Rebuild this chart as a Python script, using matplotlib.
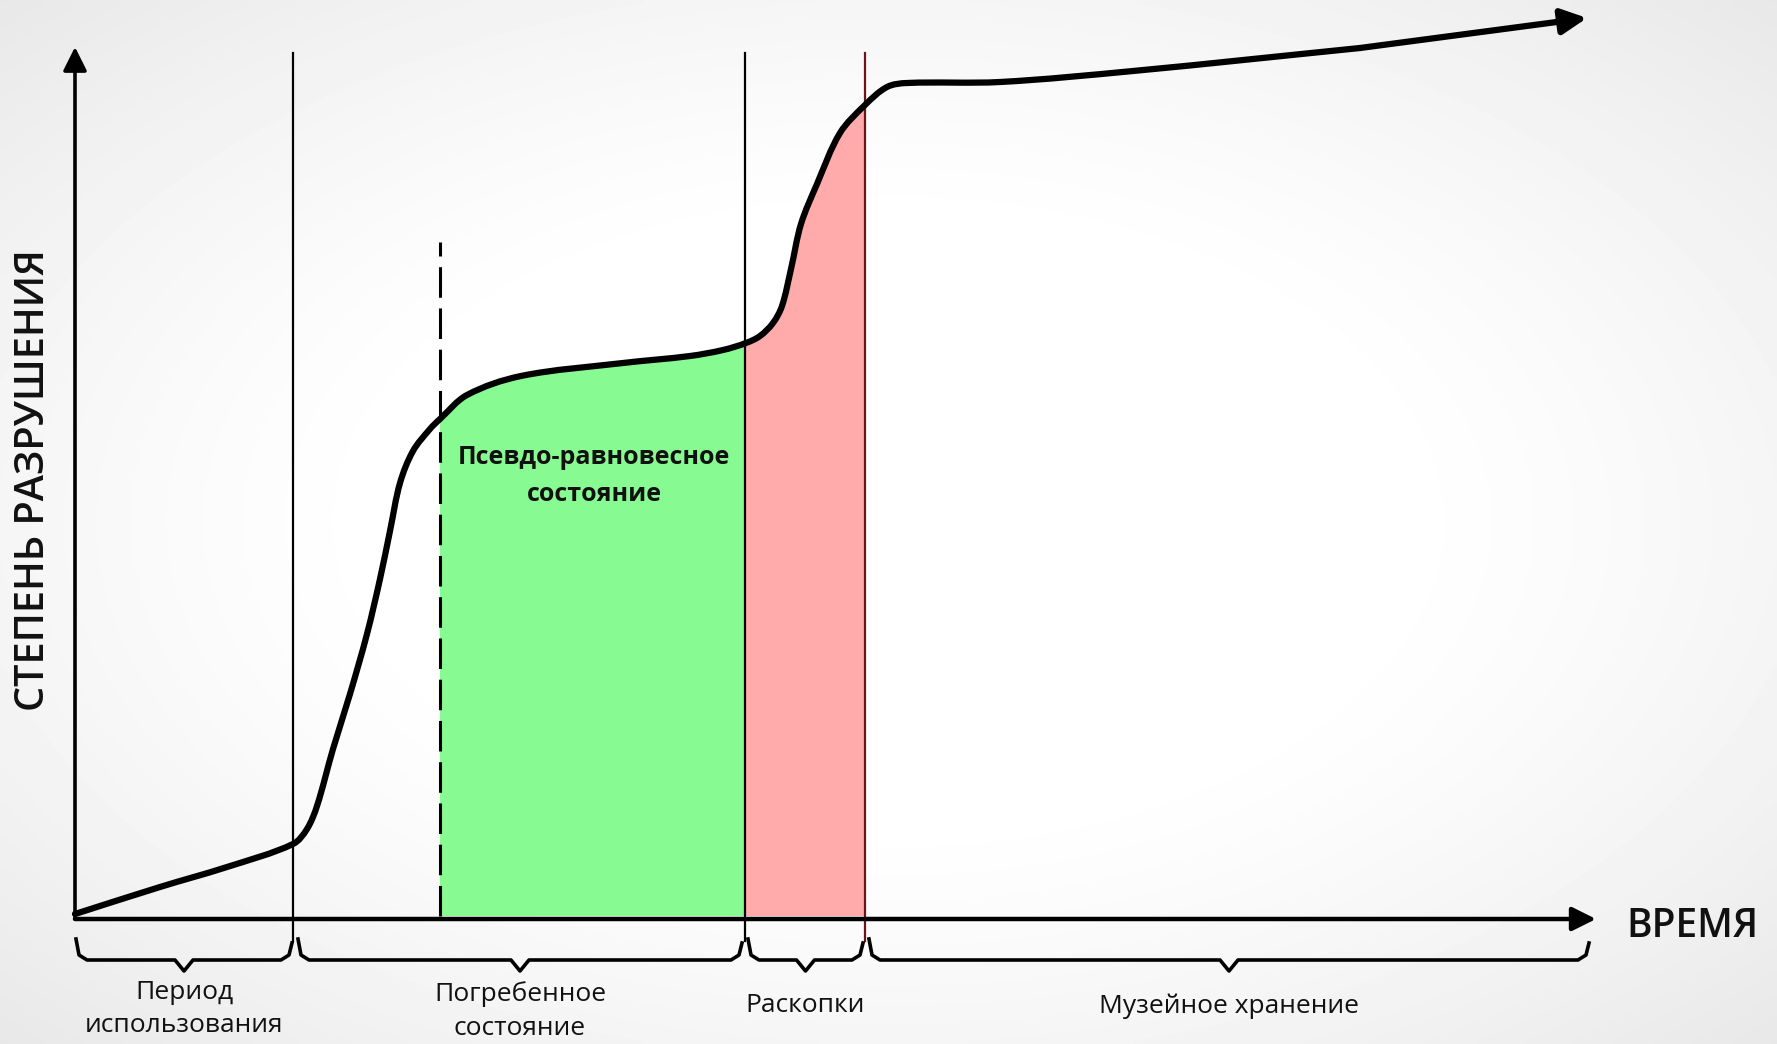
import numpy as np
import matplotlib
matplotlib.use("Agg")
import matplotlib.pyplot as plt
from matplotlib.path import Path
from matplotlib.patches import PathPatch, Rectangle

plt.rcParams['font.family'] = ['Open Sans', 'DejaVu Sans']

# curve of damage vs time (units: px of the original picture, origin at the axes corner)
time_pts = [0, 85, 152, 218, 232, 242, 258, 275, 292, 305, 315, 325, 338, 355, 365,
            392, 446, 548, 615, 648, 671, 685, 698, 707, 716, 726, 742, 765, 790,
            812, 832, 925, 1058, 1285, 1512]
damage = [5, 32, 52, 75, 90, 113, 170, 225, 285, 340, 388, 436, 468, 490, 500,
          524, 543, 556, 563, 569, 576, 583, 596, 613, 650, 695, 735, 786, 814,
          832, 836, 837, 848, 871, 901]

# phase boundaries on the time axis
t_use_end = 218
t_pseudo = 365
t_excav = 670
t_museum = 790
t_axis_end = 1521
y_axis_end = 872

phase_spans = [(0, 218), (222, 668), (672, 789), (793, 1515)]
phase_labels = ["Период\nиспользования", "Погребенное\nсостояние", "Раскопки", "Музейное хранение"]
phase_label_y = [-90, -92, -87, -87]

ylabel = "СТЕПЕНЬ РАЗРУШЕНИЯ"
xlabel = "ВРЕМЯ"
pseudo_label = "Псевдо-равновесное\nсостояние"

green = '#87fb91'
pink = '#ffabab'


def smooth_path(xs, ys):
    # bezier path through the points, tangents from neighbours
    p = np.column_stack([xs, ys]).astype(float)
    n = len(p)
    dirs = np.zeros_like(p)
    for i in range(n):
        a = p[max(i - 1, 0)]
        b = p[min(i + 1, n - 1)]
        v = b - a
        dirs[i] = v / np.hypot(*v)
    verts = [p[0]]
    codes = [Path.MOVETO]
    for i in range(n - 1):
        L = np.hypot(*(p[i + 1] - p[i]))
        verts += [p[i] + dirs[i] * L / 3, p[i + 1] - dirs[i + 1] * L / 3, p[i + 1]]
        codes += [Path.CURVE4] * 3
    return verts, codes


fig = plt.figure(figsize=(17.77, 10.44), dpi=100)
ax = fig.add_axes([0, 0, 1, 1])
xmin, xmax, ymin, ymax = -75, 1702, -125, 919
ax.set_xlim(xmin, xmax)
ax.set_ylim(ymin, ymax)
ax.axis('off')

# light vignette background
gx, gy = np.meshgrid(np.linspace(-1, 1, 300), np.linspace(-1, 1, 180))
r = np.sqrt(gx**2 + gy**2)
bg = 1 - 0.09 * np.clip((r - 0.55) / 0.86, 0, 1) ** 1.3
ax.imshow(bg, cmap='gray', vmin=0, vmax=1, extent=[xmin, xmax, ymin, ymax],
          aspect='auto', zorder=0, interpolation='bicubic')

verts, codes = smooth_path(time_pts[:-1], damage[:-1])

# region under the curve, used to clip the coloured zones
under_verts = verts + [(time_pts[-2], 3), (0, 3), (0, 3)]
under_codes = codes + [Path.LINETO, Path.LINETO, Path.CLOSEPOLY]
under = PathPatch(Path(under_verts, under_codes), transform=ax.transData)

for x0, x1, c in [(t_pseudo, t_excav, green), (t_excav, t_museum, pink)]:
    rect = Rectangle((x0, 3), x1 - x0, 900, facecolor=c, lw=0, zorder=1)
    ax.add_patch(rect)
    rect.set_clip_path(under)

# phase boundary lines
for xb, c in [(t_use_end, 'black'), (t_excav, 'black'), (t_museum, '#6b1515')]:
    ax.plot([xb, xb], [-22, 866], color=c, lw=1.6, zorder=2)
ax.plot([t_pseudo, t_pseudo], [3, 677], color='black', lw=2.2,
        dashes=(10, 3.5), zorder=2)

# curve with arrow
ax.add_patch(PathPatch(Path(verts, codes), facecolor='none', edgecolor='black',
                       lw=4.5, capstyle='round', joinstyle='round', zorder=4))
ax.annotate('', xy=(time_pts[-1], damage[-1]), xytext=(time_pts[-2], damage[-2]),
            arrowprops=dict(arrowstyle='-|>', color='black', lw=4.5,
                            mutation_scale=38, shrinkA=0, shrinkB=0), zorder=4)

# axes
ax.annotate('', xy=(0, y_axis_end), xytext=(0, 0),
            arrowprops=dict(arrowstyle='-|>', color='black', lw=2.6,
                            mutation_scale=36, shrinkA=0, shrinkB=0), zorder=3)
ax.annotate('', xy=(t_axis_end, 0), xytext=(0, 0),
            arrowprops=dict(arrowstyle='-|>', color='black', lw=3.2,
                            mutation_scale=36, shrinkA=0, shrinkB=0), zorder=3)

# braces under the time axis
for (x0, x1) in phase_spans:
    xm = (x0 + x1) / 2
    bx = [x0 + 1, x0 + 4, x0 + 12, xm - 9, xm, xm + 9, x1 - 12, x1 - 4, x1 - 1]
    by = [-20, -36, -41, -41, -52, -41, -41, -36, -24]
    ax.plot(bx, by, color='black', lw=2.6, solid_joinstyle='round', zorder=3)

for (x0, x1), lab, ly in zip(phase_spans, phase_labels, phase_label_y):
    ax.text((x0 + x1) / 2, ly, lab, ha='center', va='center', fontsize=19,
            fontweight='medium', color='#111111', linespacing=1.45)

ax.text(1551, -8, xlabel, ha='left', va='center', fontsize=28,
        fontweight='semibold', color='#111111')
ax.text(-41, 439, ylabel, ha='center', va='center', rotation=90, fontsize=28.5,
        fontweight='semibold', color='#111111')
ax.text(519, 443, pseudo_label, ha='center', va='center', fontsize=18,
        fontweight='bold', color='#111111', linespacing=1.6)

fig.savefig('out.png', dpi=100)
